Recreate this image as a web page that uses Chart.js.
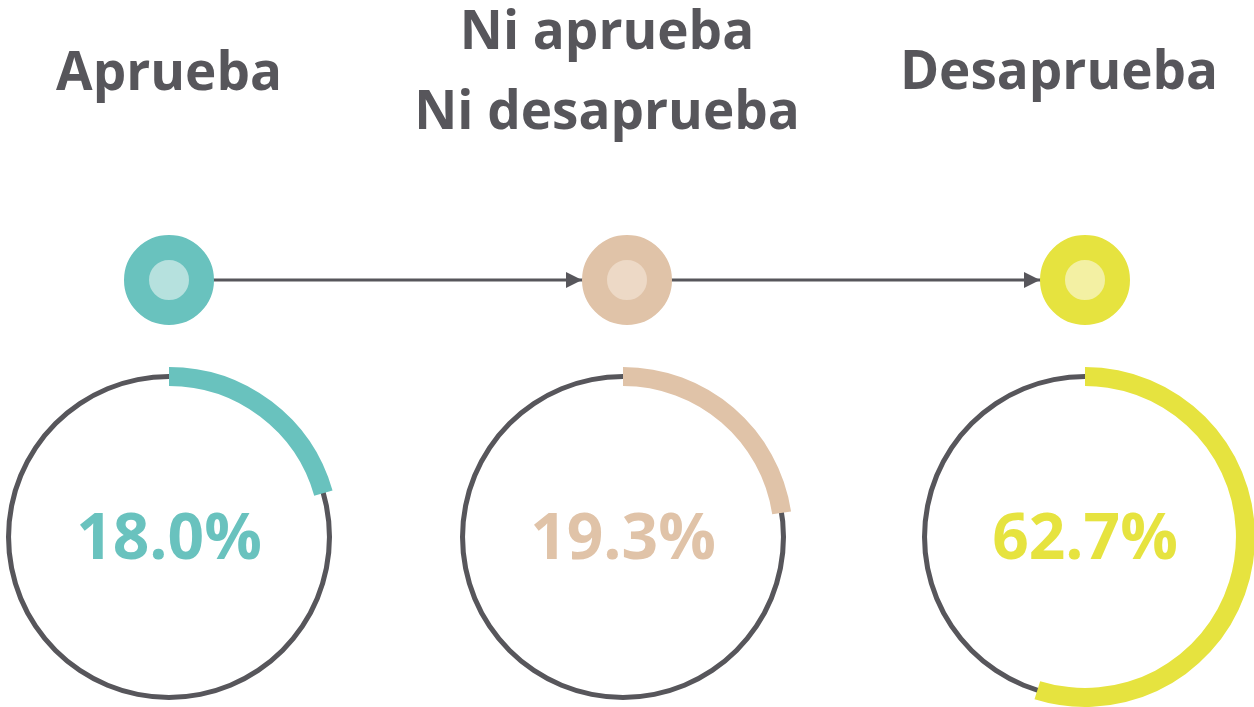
<!DOCTYPE html>
<html lang="es">
  <head>
    <meta charset="UTF-8" />
    <title>Aprueba / Desaprueba</title>
    <script src="https://cdn.jsdelivr.net/npm/chart.js"></script>
    <style>
      html, body { margin: 0; padding: 0; background: #fff; }
      body { width: 1254px; height: 707px; position: relative; overflow: hidden; }
      .title {
        position: absolute;
        width: 440px;
        text-align: center;
        font-family: 'Open Sans', sans-serif;
        font-weight: 700;
        font-size: 53px;
        color: #57565b;
        white-space: nowrap;
      }
      .ring { position: absolute; top: 362px; width: 350px; height: 350px; }
      .ring canvas { position: absolute; left: 0; top: 0; }
      #steps-wrap { position: absolute; left: 0; top: 220px; width: 1254px; height: 120px; }
    </style>
  </head>
  <body>
    <div class="title" style="left: -51px; top: 43px; line-height: 53px">Aprueba</div>
    <div class="title" style="left: 387px; top: -11px; line-height: 80px">Ni aprueba<br />Ni desaprueba</div>
    <div class="title" style="left: 839px; top: 42px; line-height: 53px">Desaprueba</div>

    <div id="steps-wrap"><canvas id="steps" width="1254" height="120"></canvas></div>

    <div class="ring" style="left: -6px">
      <canvas id="back-0" width="350" height="350"></canvas>
      <canvas id="ring-0" width="350" height="350"></canvas>
    </div>
    <div class="ring" style="left: 448px">
      <canvas id="back-1" width="350" height="350"></canvas>
      <canvas id="ring-1" width="350" height="350"></canvas>
    </div>
    <div class="ring" style="left: 910px">
      <canvas id="back-2" width="350" height="350"></canvas>
      <canvas id="ring-2" width="350" height="350"></canvas>
    </div>

    <script>
      const categories = ['Aprueba', 'Ni aprueba Ni desaprueba', 'Desaprueba'];
      // printed percentages
      const shares = [18.0, 19.3, 62.7];
      // length of the coloured arc as drawn in the picture (% of the circle)
      const arcShares = [20.6, 22.6, 54.8];

      const colors = ['#69c2be', '#e0c3a8', '#e6e33f'];
      const lightColors = ['#b6e1de', '#edd9c6', '#f3f0a3'];
      const dark = '#57565b';

      // arrow heads pointing at the next dot
      const arrowHeads = {
        id: 'arrowHeads',
        afterDatasetsDraw(chart) {
          const pts = chart.getDatasetMeta(0).data;
          const ctx = chart.ctx;
          ctx.save();
          ctx.fillStyle = dark;
          for (let i = 1; i < pts.length; i++) {
            const tip = pts[i].x - 45;
            const y = pts[i].y;
            ctx.beginPath();
            ctx.moveTo(tip, y);
            ctx.lineTo(tip - 16, y - 8);
            ctx.lineTo(tip - 16, y + 8);
            ctx.closePath();
            ctx.fill();
          }
          ctx.restore();
        },
      };

      new Chart(document.getElementById('steps'), {
        type: 'line',
        data: {
          datasets: [
            {
              data: categories.map((c, i) => ({ x: i, y: 0 })),
              borderColor: dark,
              borderWidth: 3,
              pointRadius: 32.5,
              pointBorderWidth: 25,
              pointBackgroundColor: lightColors,
              pointBorderColor: colors,
              clip: false,
            },
          ],
        },
        options: {
          responsive: false,
          animation: false,
          events: [],
          layout: { padding: 0, autoPadding: false },
          plugins: { legend: { display: false }, tooltip: { enabled: false } },
          scales: {
            x: { type: 'linear', min: -0.369, max: 2.369, display: false },
            y: { min: -1, max: 1, display: false },
          },
        },
        plugins: [arrowHeads],
      });

      // percentage in the middle of each ring
      const centerLabel = {
        id: 'centerLabel',
        afterDraw(chart, args, opts) {
          const { ctx, chartArea } = chart;
          ctx.save();
          ctx.font = '700 64px "Open Sans", sans-serif';
          ctx.fillStyle = opts.color;
          ctx.textAlign = 'center';
          ctx.textBaseline = 'middle';
          ctx.fillText(opts.text, (chartArea.left + chartArea.right) / 2, (chartArea.top + chartArea.bottom) / 2 + 4);
          ctx.restore();
        },
      };

      categories.forEach((cat, i) => {
        // thin dark full circle
        new Chart(document.getElementById('back-' + i), {
          type: 'doughnut',
          data: {
            labels: [cat],
            datasets: [{ data: [100], backgroundColor: [dark], borderWidth: 0 }],
          },
          options: {
            responsive: false,
            animation: false,
            events: [],
            radius: 163,
            cutout: '96.9%',
            plugins: { legend: { display: false }, tooltip: { enabled: false } },
          },
        });

        // coloured share arc
        new Chart(document.getElementById('ring-' + i), {
          type: 'doughnut',
          data: {
            labels: [cat, 'resto'],
            datasets: [
              {
                data: [arcShares[i], 100 - arcShares[i]],
                backgroundColor: [colors[i], 'rgba(0,0,0,0)'],
                borderWidth: 0,
              },
            ],
          },
          options: {
            responsive: false,
            animation: false,
            events: [],
            radius: 170,
            cutout: '88.8%',
            plugins: {
              legend: { display: false },
              tooltip: { enabled: false },
              centerLabel: { text: shares[i].toFixed(1) + '%', color: colors[i] },
            },
          },
          plugins: [centerLabel],
        });
      });
    </script>
  </body>
</html>
